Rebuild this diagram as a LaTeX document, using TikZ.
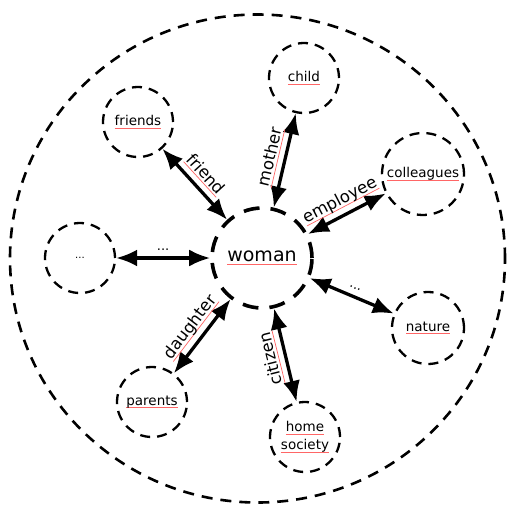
\documentclass[tikz,border=0pt]{standalone}
\usepackage{fontspec}
\setmainfont{DejaVu Sans}
\usetikzlibrary{arrows.meta}
\newcommand\sq[1]{\setbox0\hbox{#1}\rlap{\color{red!60}\rule[-2.8pt]{\wd0}{0.7pt}}\box0}
\begin{document}
\begin{tikzpicture}[x=1pt,y=-1pt,
  outerline/.style={line width=2.6pt, dash pattern=on 11pt off 8pt},
  small/.style={draw, circle, line width=2.3pt, dash pattern=on 10pt off 7pt,
    minimum size=70pt, inner sep=0pt, font=\fontsize{13.5}{19}\selectfont, align=center},
  womanc/.style={draw, circle, line width=3.6pt, dash pattern=on 16pt off 11pt,
    minimum size=100pt, inner sep=0pt, font=\fontsize{19}{22}\selectfont},
  arr/.style={line width=3.3pt, {Latex[length=21pt,width=17pt]}-{Latex[length=21pt,width=17pt]}},
  lab/.style={font=\fontsize{16.5}{18}\selectfont, inner sep=5pt},
  dots/.style={font=\fontsize{13}{14}\selectfont, inner sep=6pt}
]
\useasboundingbox (0,0) rectangle (508,504);
\draw[outerline] (257.5,258.5) ellipse [x radius=247.5pt, y radius=244pt];

\node[womanc] (woman) at (262,258) {\sq{woman}};
\node[small] (child) at (304,78) {\sq{child}};
\node[small] (friends) at (138,122) {\sq{friends}};
\node[small, minimum size=82pt] (colleagues) at (423,174) {\sq{colleagues}};
\node[small] (other) at (80,258) {\fontsize{10}{12}\selectfont ...};
\node[small, minimum size=72pt] (nature) at (428,328) {\sq{nature}};
\node[small] (parents) at (152,402) {\sq{parents}};
\node[small] (home) at (305,437) {\sq{home}\\[-1pt]\sq{society}};

\draw[arr] (friends) -- (woman) node[lab, midway, sloped, above] {\sq{friend}};
\draw[arr] (woman) -- (child) node[lab, midway, sloped, above] {\sq{mother}};
\draw[arr] (woman) -- (colleagues) node[lab, midway, sloped, above] {\sq{employee}};
\draw[arr] (other) -- (woman) node[dots, midway, sloped, above] {...};
\draw[arr] (woman) -- (nature) node[dots, midway, sloped, above] {...};
\draw[arr] (home) -- (woman) node[lab, midway, rotate=104, anchor=south] {\sq{citizen}};
\draw[arr] (parents) -- (woman) node[lab, midway, sloped, above] {\sq{daughter}};
\end{tikzpicture}
\end{document}
